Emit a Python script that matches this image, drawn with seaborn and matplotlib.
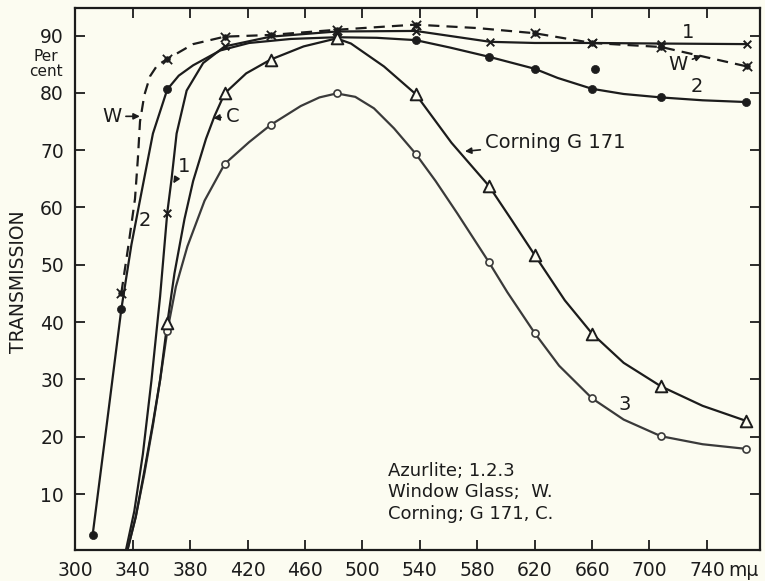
import matplotlib
matplotlib.use("Agg")
import matplotlib.pyplot as plt
import seaborn as sns

# ---------------- data ----------------
x_ticks = [300, 340, 380, 420, 460, 500, 540, 580, 620, 660, 700, 740]
x_tick_labels = ["300", "340", "380", "420", "460", "500", "540", "580", "620", "660", "700", "740"]
y_ticks = [10, 20, 30, 40, 50, 60, 70, 80, 90]
y_tick_labels = ["10", "20", "30", "40", "50", "60", "70", "80", "90"]

# Azurlite 1 (x markers)
az1_line_wl = [335, 341, 347, 353, 359, 364, 367, 370.5, 377.5, 389, 404, 436, 482, 537, 589, 620, 660, 708, 768]
az1_line_t = [0, 7, 17, 29.9, 44.5, 59.1, 65, 72.9, 80.4, 85.2, 88.1, 89.8, 90.7, 90.8, 88.9, 88.7, 88.7, 88.6, 88.5]
az1_pts_wl = [364, 404, 482, 537, 589, 660, 708, 768]
az1_pts_t = [59.1, 88.1, 90.7, 90.8, 88.9, 88.7, 88.6, 88.5]

# Azurlite 2 (filled dots)
az2_line_wl = [312, 322, 332, 339, 346, 354, 364, 372, 382, 401, 421, 450, 482, 510, 537, 561, 588, 620, 636, 660, 682, 708, 737, 767]
az2_line_t = [2.9, 22.5, 42.3, 53.5, 62.6, 72.9, 80.6, 83, 84.8, 87.4, 88.7, 89.4, 89.7, 89.6, 89.2, 87.9, 86.3, 84.2, 82.6, 80.7, 79.8, 79.2, 78.7, 78.4]
az2_pts_wl = [312, 332, 364, 537, 588, 620, 660, 708, 767, 662]
az2_pts_t = [2.9, 42.3, 80.6, 89.2, 86.3, 84.2, 80.7, 79.2, 78.4, 84.1]

# Azurlite 3 (open circles)
az3_line_wl = [336, 342, 348, 354, 359, 364, 370, 378, 390, 404, 421, 436, 457, 470, 482, 495, 508, 522, 537, 551, 566, 588, 601, 620, 637, 660, 682, 708, 737, 767]
az3_line_t = [0, 6, 13.5, 22, 29.9, 38.4, 46.2, 53.2, 61.2, 67.6, 71.4, 74.4, 77.7, 79.2, 79.9, 79.3, 77.3, 73.8, 69.4, 64.6, 59, 50.5, 45.2, 38.1, 32.4, 26.7, 23, 20.1, 18.7, 17.9]
az3_pts_wl = [364, 404, 436, 482, 537, 588, 620, 660, 708, 767]
az3_pts_t = [38.4, 67.6, 74.4, 79.9, 69.4, 50.5, 38.1, 26.7, 20.1, 17.9]

# Corning G 171 (open triangles)
cg_line_wl = [336, 342, 348, 354, 359, 364, 369, 376, 382, 391, 397, 404, 419, 436, 459, 482, 492, 515, 537, 562, 588, 604, 620, 641, 660, 682, 708, 737, 767]
cg_line_t = [0, 6, 14, 22.4, 29.9, 39.8, 48.5, 58, 64.6, 72, 76, 79.9, 83.4, 85.8, 88.1, 89.5, 88.6, 84.6, 79.8, 71.3, 63.8, 57.8, 51.7, 43.8, 38.0, 32.9, 28.8, 25.4, 22.8]
cg_pts_wl = [364, 404, 436, 482, 537, 588, 620, 660, 708, 767]
cg_pts_t = [39.8, 79.9, 85.8, 89.5, 79.8, 63.8, 51.7, 38.0, 28.8, 22.8]

# Window glass W (dashed)
wg_line_wl = [332, 337, 341.5, 343.5, 345, 348, 352, 357, 364, 382, 404, 436, 482, 537, 580, 620, 660, 708, 768]
wg_line_t = [45.1, 53.5, 61.5, 68.5, 75, 79.6, 82.9, 84.8, 85.9, 88.5, 89.8, 90.1, 91.0, 91.9, 91.3, 90.4, 88.7, 88.0, 84.6]
wg_pts_wl = [332, 364, 404, 436, 482, 537, 620, 660, 708, 768]
wg_pts_t = [45.1, 85.9, 89.8, 90.1, 91.0, 91.9, 90.4, 88.7, 88.0, 84.6]

legend_lines = ["Azurlite; 1.2.3", "Window Glass;  W.", "Corning; G 171, C."]

# ---------------- styling ----------------
bg = "#fcfcf1"
ink = "#1c1c1c"
gray_ink = "#3a3a3a"

sns.set_style("ticks")
plt.rcParams["font.family"] = ["DejaVu Sans"]

fig = plt.figure(figsize=(7.65, 5.81), dpi=100, facecolor=bg)
ax = fig.add_axes([75 / 765, 1 - 550 / 581, 685 / 765, 542 / 581])
ax.set_facecolor(bg)

lw = 1.6
sns.lineplot(x=az1_line_wl, y=az1_line_t, ax=ax, color=ink, lw=lw, sort=False, estimator=None)
sns.lineplot(x=az2_line_wl, y=az2_line_t, ax=ax, color=ink, lw=lw, sort=False, estimator=None)
sns.lineplot(x=az3_line_wl, y=az3_line_t, ax=ax, color=gray_ink, lw=lw, sort=False, estimator=None)
sns.lineplot(x=cg_line_wl, y=cg_line_t, ax=ax, color=ink, lw=lw, sort=False, estimator=None)
sns.lineplot(x=wg_line_wl, y=wg_line_t, ax=ax, color=ink, lw=lw, sort=False, estimator=None)
ax.lines[-1].set_dashes((5, 3.2))

# markers
sns.scatterplot(x=az3_pts_wl, y=az3_pts_t, ax=ax, marker="o", s=26, facecolor=bg, edgecolor=gray_ink, linewidth=1.2, zorder=5)
sns.scatterplot(x=cg_pts_wl, y=cg_pts_t, ax=ax, marker="^", s=70, facecolor=bg, edgecolor=ink, linewidth=1.4, zorder=5)
sns.scatterplot(x=az2_pts_wl, y=az2_pts_t, ax=ax, marker="o", s=34, color=ink, edgecolor=ink, linewidth=0.5, zorder=5)
sns.scatterplot(x=az1_pts_wl, y=az1_pts_t, ax=ax, marker="x", s=30, color=ink, linewidth=1.4, zorder=6)
sns.scatterplot(x=wg_pts_wl, y=wg_pts_t, ax=ax, marker="o", s=16, color=ink, edgecolor=ink, linewidth=0.5, zorder=6)
sns.scatterplot(x=wg_pts_wl, y=wg_pts_t, ax=ax, marker="x", s=45, color=ink, linewidth=1.3, zorder=6)

ax.set_xlim(299.7, 777)
ax.set_ylim(0.25, 94.8)

ax.set_xticks(x_ticks)
ax.set_xticklabels(x_tick_labels)
ax.set_yticks(y_ticks)
ax.set_yticklabels(y_tick_labels)
ax.tick_params(axis="both", which="both", direction="in", length=7, width=1.3, color=ink,
               top=True, right=True, labelsize=13.5, labelcolor=ink, pad=8)
for sp in ax.spines.values():
    sp.set_linewidth(1.6)
    sp.set_color(ink)
    sp.set_visible(True)
ax.set_xlabel("")
ax.set_ylabel("")

# unit after last x tick label
ax.annotate("mμ", xy=(754.7, 0), xycoords=ax.get_xaxis_transform(), xytext=(0, -8),
            textcoords="offset points", ha="left", va="top", fontsize=13.5, color=ink)

# axis titles
fig.text(19 / 765, 1 - 282 / 581, "TRANSMISSION", rotation=90, ha="center", va="center",
         fontsize=13.5, color=ink)
fig.text(46 / 765, 1 - 64 / 581, "Per\ncent", ha="center", va="center", fontsize=11,
         color=ink, linespacing=0.95)

arrow = dict(arrowstyle="-|>", color=ink, lw=1.2, mutation_scale=9, shrinkA=1, shrinkB=0)
txt = dict(fontsize=14, color=ink, ha="center", va="center")

ax.annotate("W", xy=(344.9, 75.9), xytext=(325.2, 75.9), arrowprops=arrow, **txt)
ax.annotate("C", xy=(396, 75.6), xytext=(409.5, 75.9), arrowprops=arrow, **txt)
ax.annotate("1", xy=(368.2, 64.2), xytext=(375.5, 67.2), arrowprops=arrow, **txt)
ax.text(348.4, 57.8, "2", **txt)
ax.annotate("Corning G 171", xy=(571.4, 69.8), xytext=(585.4, 71.3), arrowprops=arrow,
            fontsize=14, color=ink, ha="left", va="center")
ax.text(727, 90.6, "1", **txt)
ax.annotate("W", xy=(736.4, 86.5), xytext=(720, 84.9), arrowprops=arrow, **txt)
ax.text(732.9, 81.1, "2", **txt)
ax.text(682.9, 25.6, "3", **txt)

ax.text(518, 10.3, "\n".join(legend_lines), ha="left", va="center", fontsize=13,
        color=ink, linespacing=1.25)

fig.savefig("out.png", dpi=100, facecolor=bg)
